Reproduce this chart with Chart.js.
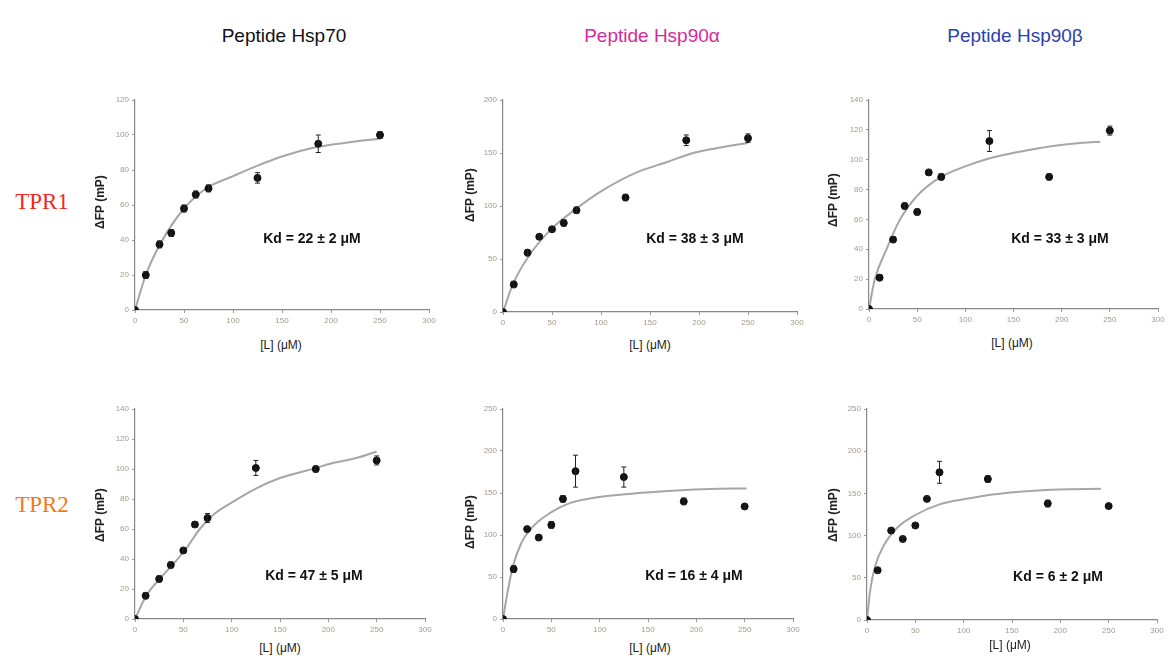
<!DOCTYPE html>
<html>
<head>
<meta charset="utf-8">
<script src="https://cdn.jsdelivr.net/npm/chart.js@4/dist/chart.umd.min.js"></script>
<style>
  html,body{margin:0;padding:0;background:#fff;}
  #wrap{position:relative;width:1168px;height:661px;overflow:hidden;font-family:"Liberation Sans",Arial,sans-serif;}
  canvas{position:absolute;}
  .t{position:absolute;white-space:nowrap;transform:translate(-50%,-50%);}
  .title{font-size:19px;}
  .row{font-family:"Liberation Serif","Times New Roman",serif;font-size:23px;}
  .kd{font-size:14px;font-weight:bold;color:#111;}
  .xl{font-size:12px;color:#222;}
  .yl{font-size:12px;font-weight:bold;color:#222;transform:translate(-50%,-50%) rotate(-90deg);}
</style>
</head>
<body>
<div id="wrap"></div>
<script>
// ---- data ----
const conc = [0, 11, 25, 37, 50, 62, 75, 125, 187, 250];
const xTicks = [0, 50, 100, 150, 200, 250, 300];

const colTitles = ["Peptide Hsp70", "Peptide Hsp90α", "Peptide Hsp90β"];
const rowTitles = ["TPR1", "TPR2"];
const kdLabels = ["Kd = 22 ± 2 μM", "Kd = 38 ± 3 μM", "Kd = 33 ± 3 μM",
                  "Kd = 47 ± 5 μM", "Kd = 16 ± 4 μM", "Kd = 6 ± 2 μM"];
const xTitle = "[L] (μM)";
const yTitle = "ΔFP (mP)";

const r1c1Y = [0, 20, 37.5, 44, 58, 66, 69.5, 75.5, 95, 100];
const r1c2Y = [0, 26, 56, 71, 78, 84, 96, 108, 162, 164];
const r1c3Y = [0, 21, 46.5, 69, 65, 91.5, 88.5, 112.5, 88.5, 119.5];
const r2c1Y = [0, 15.5, 26.7, 36, 45.7, 63, 67.3, 100.7, 100, 105.7];
const r2c2Y = [0, 59.5, 107, 97, 112, 143, 176, 169, 140, 134];
const r2c3Y = [0, 59, 106, 96, 112, 143.5, 175, 167, 138, 135];

const r1c1Err = [0, 2, 2, 2, 2, 2, 2, 3, 5, 2];
const r1c2Err = [0, 3, 3, 2, 2, 3, 3, 3, 5, 4];
const r1c3Err = [0, 2, 2, 2, 2, 2, 2, 7, 2, 3];
const r2c1Err = [0, 2, 2, 2, 2, 2, 3, 5, 2, 3];
const r2c2Err = [0, 4, 3, 3, 4, 4, 19, 12, 4, 3];
const r2c3Err = [0, 3, 3, 3, 3, 3, 13, 4, 4, 3];

const fitX1 = [0, 11, 26, 50, 74, 98, 125, 149, 183, 217, 251];
const fitY1 = [0, 20, 38, 58, 70, 76, 82.5, 87.6, 92.8, 95.7, 98];
const fitX2 = [0, 10, 25.5, 48, 75.5, 102, 137, 167.5, 194, 224.5, 250];
const fitY2 = [0, 26, 51.7, 77, 98, 115, 132, 141.5, 150, 155.6, 159.4];
const fitX3 = [0, 5.9, 18, 31.9, 49.2, 73.4, 97.6, 125.3, 156.5, 191, 222, 240];
const fitY3 = [0, 19.6, 39.7, 59.7, 75.3, 88, 95, 101, 105.4, 109.2, 111.4, 112.1];
const fitX4 = [0, 12, 26, 40, 53, 67, 81, 102, 126, 150, 178, 205, 229, 250];
const fitY4 = [0, 16, 27, 37, 47, 60, 69.5, 78.4, 87.3, 94, 99, 104, 107.3, 111.7];
const fitX5 = [0, 5.2, 10.3, 19, 31, 48.3, 69, 93, 121, 148, 179, 214, 252];
const fitY5 = [0, 35, 62.7, 90.5, 110, 126, 138, 144, 148, 150.7, 153, 154.8, 155.5];
const fitX6 = [0, 3.4, 8.5, 17, 31, 51, 75, 103, 130, 165, 199, 242];
const fitY6 = [0, 36, 64, 87.5, 109, 125, 137, 143.6, 148.7, 152.6, 154.6, 155.4];

const yMax = [120, 200, 140, 140, 250, 250];
const yStep = [20, 50, 20, 20, 50, 50];

// ---- layout (pixel geometry of each plot area) ----
const geom = [
  {x0:134.5, x1:428,   y0:309.5, y1:100},
  {x0:503,   x1:797,   y0:311.7, y1:100},
  {x0:869.3, x1:1158,  y0:309.3, y1:100},
  {x0:135,   x1:425,   y0:619.3, y1:409.3},
  {x0:503.3, x1:793.3, y0:619.3, y1:409.3},
  {x0:866.7, x1:1157,  y0:620.7, y1:409.3}
];
const panels = [
  {y:r1c1Y, e:r1c1Err, fx:fitX1, fy:fitY1},
  {y:r1c2Y, e:r1c2Err, fx:fitX2, fy:fitY2},
  {y:r1c3Y, e:r1c3Err, fx:fitX3, fy:fitY3},
  {y:r2c1Y, e:r2c1Err, fx:fitX4, fy:fitY4},
  {y:r2c2Y, e:r2c2Err, fx:fitX5, fy:fitY5},
  {y:r2c3Y, e:r2c3Err, fx:fitX6, fy:fitY6}
];
const colColors = ["#111111", "#d42a9a", "#2b3fae"];
const rowColors = ["#ee2a1e", "#f07a1a"];

const wrap = document.getElementById('wrap');
function addText(cls, txt, x, y, color){
  const d = document.createElement('div');
  d.className = 't ' + cls; d.textContent = txt;
  d.style.left = x + 'px'; d.style.top = y + 'px';
  if (color) d.style.color = color;
  wrap.appendChild(d);
}

const errorBars = {
  id: 'errorBars',
  afterDatasetsDraw(chart){
    const ctx = chart.ctx, xs = chart.scales.x, ys = chart.scales.y;
    chart.data.datasets.forEach(ds => {
      if (!ds.errors) return;
      ctx.save(); ctx.strokeStyle = '#222'; ctx.lineWidth = 1;
      ds.data.forEach((p, i) => {
        const err = ds.errors[i]; if (!err) return;
        const px = xs.getPixelForValue(p.x);
        const yt = ys.getPixelForValue(p.y + err), yb = ys.getPixelForValue(p.y - err);
        ctx.beginPath();
        ctx.moveTo(px, yt); ctx.lineTo(px, yb);
        ctx.moveTo(px - 2.5, yt); ctx.lineTo(px + 2.5, yt);
        ctx.moveTo(px - 2.5, yb); ctx.lineTo(px + 2.5, yb);
        ctx.stroke();
      });
      ctx.restore();
    });
  }
};

const PADL = 36, PADT = 10, PADR = 12, PADB = 22;
geom.forEach((g, k) => {
  const P = panels[k];
  const cv = document.createElement('canvas');
  const w = Math.round(g.x1 - g.x0 + PADL + PADR);
  const h = Math.round(g.y0 - g.y1 + PADT + PADB);
  cv.width = w; cv.height = h;
  cv.style.width = w + 'px'; cv.style.height = h + 'px';
  cv.style.left = (g.x0 - PADL) + 'px'; cv.style.top = (g.y1 - PADT) + 'px';
  wrap.appendChild(cv);
  const yTicks = [];
  for (let v = 0; v <= yMax[k]; v += yStep[k]) yTicks.push(v);
  new Chart(cv, {
    type: 'scatter',
    data: {
      datasets: [
        {
          type: 'line',
          data: P.fx.map((x, i) => ({x, y: P.fy[i]})),
          borderColor: '#a6a6a6', borderWidth: 2, pointRadius: 0,
          cubicInterpolationMode: 'monotone', fill: false, order: 2
        },
        {
          data: conc.map((x, i) => ({x, y: P.y[i]})),
          errors: P.e,
          backgroundColor: '#111', borderColor: '#111',
          pointRadius: 3.5, pointHoverRadius: 3.5, order: 1
        }
      ]
    },
    options: {
      responsive: false, animation: false, devicePixelRatio: 1,
      layout: {padding: {left: 0, top: PADT, right: PADR, bottom: 0}},
      plugins: {legend: {display: false}, tooltip: {enabled: false}},
      scales: {
        x: {
          type: 'linear', min: 0, max: 300,
          afterFit(s){ s.height = PADB; },
          afterBuildTicks(s){ s.ticks = xTicks.map(v => ({value: v})); },
          grid: {display: true, drawOnChartArea: false, drawTicks: true, tickLength: 3, color: '#999'},
          border: {display: true, color: '#888', width: 1.2},
          ticks: {color: '#a09a8a', font: {size: 8}, padding: 3, maxRotation: 0}
        },
        y: {
          type: 'linear', min: 0, max: yMax[k],
          afterFit(s){ s.width = PADL; },
          afterBuildTicks(s){ s.ticks = yTicks.map(v => ({value: v})); },
          grid: {display: true, drawOnChartArea: false, drawTicks: true, tickLength: 3, color: '#999'},
          border: {display: true, color: '#888', width: 1.2},
          ticks: {color: '#a09a8a', font: {size: 8}, padding: 3}
        }
      }
    },
    plugins: [errorBars]
  });
});

// titles and annotations
const colCenters = [284, 652, 1015];
colTitles.forEach((t, i) => addText('title', t, colCenters[i], 36, colColors[i]));
addText('row', rowTitles[0], 42, 202, rowColors[0]);
addText('row', rowTitles[1], 42, 505, rowColors[1]);

const kdPos = [[312,238],[695,238],[1060,238],[314,575],[694,575],[1058,576]];
kdLabels.forEach((t, i) => addText('kd', t, kdPos[i][0], kdPos[i][1]));

const xlPos = [[281,345],[650,345],[1012,343],[280,648],[650,648],[1010,645]];
xlPos.forEach(p => addText('xl', xTitle, p[0], p[1]));
const ylPos = [[100,202],[470,195],[833,200],[100,515],[470,522],[833,515]];
ylPos.forEach(p => addText('yl', yTitle, p[0], p[1]));
</script>
</body>
</html>
